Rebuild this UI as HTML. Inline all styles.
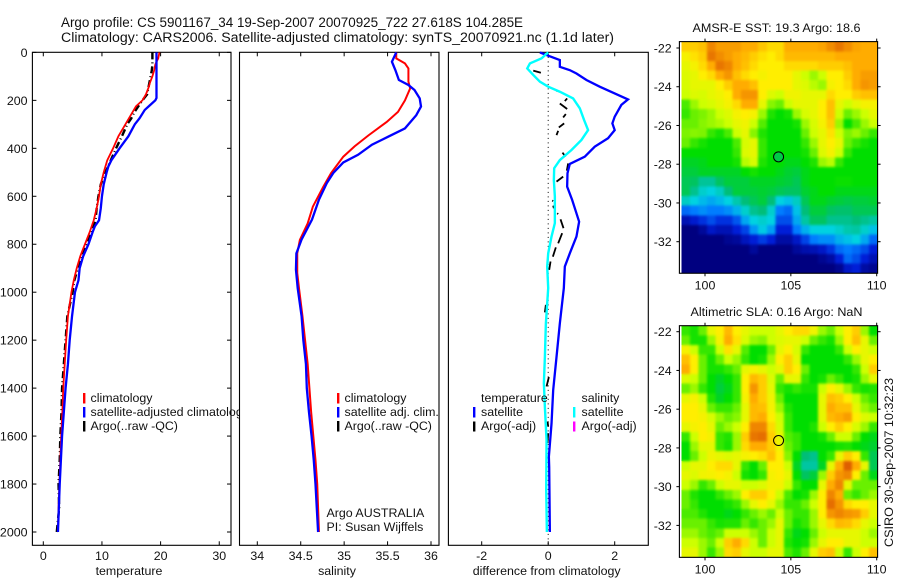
<!DOCTYPE html>
<html>
<head>
<meta charset="utf-8">
<title>Argo profile</title>
<style>
html,body{margin:0;padding:0;background:#fff;}
svg{display:block;}
text{font-family:"Liberation Sans",sans-serif;font-size:12.4px;fill:#111;}
</style>
</head>
<body>
<svg id="chart" xmlns="http://www.w3.org/2000/svg" width="900" height="580" viewBox="0 0 900 580">
  <defs>
    <filter id="soften" x="-5%" y="-5%" width="110%" height="110%" color-interpolation-filters="sRGB">
      <feGaussianBlur stdDeviation="1.4"/>
    </filter>
  </defs>
  <rect x="0" y="0" width="900" height="580" fill="#fff"/>
  <text x="61" y="27" textLength="462" lengthAdjust="spacingAndGlyphs" style="font-size:13.4px">Argo profile: CS 5901167_34 19-Sep-2007 20070925_722 27.618S 104.285E</text>
  <text x="61" y="42" textLength="553" lengthAdjust="spacingAndGlyphs" style="font-size:13.4px">Climatology: CARS2006. Satellite-adjusted climatology: synTS_20070921.nc (1.1d later)</text>

  <g id="p1"></g>
  <g>
    <rect x="83" y="393" width="2.4" height="10.5" fill="#f00"/>
    <rect x="83" y="407" width="2.4" height="10.5" fill="#00f"/>
    <rect x="83" y="421" width="2.4" height="10.5" fill="#000"/>
    <text x="90.5" y="402">climatology</text>
    <text x="90.5" y="416">satellite-adjusted climatology</text>
    <text x="90.5" y="430">Argo(..raw -QC)</text>
  </g>

  <g id="p2"></g>
  <g>
    <rect x="337" y="393" width="2.4" height="10.5" fill="#f00"/>
    <rect x="337" y="407" width="2.4" height="10.5" fill="#00f"/>
    <rect x="337" y="421" width="2.4" height="10.5" fill="#000"/>
    <text x="344.5" y="402">climatology</text>
    <text x="344.5" y="416">satellite adj. clim.</text>
    <text x="344.5" y="430">Argo(..raw -QC)</text>
    <text x="326.5" y="517">Argo AUSTRALIA</text>
    <text x="326.5" y="531">PI: Susan Wijffels</text>
  </g>

  <g id="p3"></g>
  <g>
    <text x="481" y="402">temperature</text>
    <rect x="473" y="407" width="2.4" height="10.5" fill="#00f"/>
    <rect x="473" y="421.5" width="2.4" height="10" fill="#000"/>
    <text x="481" y="416">satellite</text>
    <text x="481" y="430">Argo(-adj)</text>
    <text x="581.5" y="402">salinity</text>
    <rect x="573" y="407" width="2.4" height="10.5" fill="#0ff"/>
    <rect x="573" y="421.5" width="2.4" height="10" fill="#f0f"/>
    <text x="581.5" y="416">satellite</text>
    <text x="581.5" y="430">Argo(-adj)</text>
  </g>

  <g id="m1"></g>
  <g id="m2"></g>

  <text x="692.5" y="32" textLength="168" lengthAdjust="spacingAndGlyphs">AMSR-E SST: 19.3 Argo: 18.6</text>
  <text x="690.5" y="316" textLength="172" lengthAdjust="spacingAndGlyphs">Altimetric SLA: 0.16 Argo: NaN</text>
  <text transform="translate(893,547) rotate(-90)" textLength="169" lengthAdjust="spacingAndGlyphs">CSIRO 30-Sep-2007 10:32:23</text>
</svg>

<script>
// ---------- axis tick values ----------
var depthTicks = [0,200,400,600,800,1000,1200,1400,1600,1800,2000];
var tempTicks = [0,10,20,30];
var salTicks = [34,34.5,35,35.5,36];
var salTickLabels = ["34","34.5","35","35.5","36"];
var diffTicks = [-2,0,2];
var lonTicks = [100,105,110];
var latTicks = [-22,-24,-26,-28,-30,-32];

// ---------- temperature panel ----------
var tempClimDepths = [0,25,50,75,100,125,150,175,200,225,250,275,300,350,400,450,500,550,600,650,700,750,800,850,900,950,1000,1100,1200,1300,1400,1500,1600,1700,1800,1900,2000];
var tempClimValues = [19.8,19.6,19.1,18.9,18.6,18.2,17.9,17.5,16.9,15.8,15.2,14.6,14.0,12.8,11.9,10.9,10.3,9.8,9.5,9.1,8.6,7.9,7.1,6.3,5.7,5.2,4.8,4.2,3.9,3.65,3.4,3.25,3.05,2.9,2.75,2.6,2.5];
var tempSatDepths = [0,190,200,220,240,275,300,350,400,450,475,500,550,600,650,700,725,750,800,850,900,950,1000,1100,1200,1300,1400,1500,1600,1700,1800,1900,2000];
var tempSatValues = [19.3,19.3,19.1,18.2,17.3,16.4,15.6,14.5,13,11.6,11.1,10.8,10.3,10,9.8,9.5,8.8,8.4,7.7,6.8,6.2,6,5.4,4.9,4.5,4.2,3.8,3.5,3.2,3,2.8,2.65,2.5];
var tempArgoDepths = [0,25,50,75,100,150,175,200,225,250,275,300,350,400,450,500,550,600,650,700,750,800,850,900,950,1000,1100,1200,1300,1400,1500,1600,1700,1800,1900,2000];
var tempArgoValues = [18.6,18.6,18.6,18.5,18.3,17.9,17.7,16.9,16.2,15.5,15,14.3,13.4,12.4,11.5,10.6,9.8,9.4,9.1,8.9,8.2,7.3,6.4,5.9,5.3,5,4.1,3.8,3.5,3.2,3.1,2.9,2.8,2.6,2.7,2.3];

// ---------- salinity panel ----------
var salClimDepths = [0,25,46,67,122,150,200,248,290,346,392,435,503,560,643,713,782,838,920,983,1100,1200,1300,1400,1500,1600,1700,1800,1900,2000];
var salClimValues = [35.6,35.6,35.7,35.74,35.74,35.76,35.7,35.62,35.49,35.28,35.12,34.99,34.85,34.76,34.64,34.58,34.49,34.46,34.46,34.48,34.52,34.55,34.58,34.6,34.62,34.645,34.67,34.69,34.7,34.71];
var salSatDepths = [0,39,74,115,136,157,192,226,262,317,351,385,427,459,503,545,614,697,780,838,906,983,1100,1200,1300,1400,1500,1600,1700,1800,1900,2000];
var salSatValues = [35.6,35.55,35.59,35.63,35.74,35.81,35.87,35.885,35.83,35.7,35.51,35.32,35.16,34.99,34.875,34.8,34.71,34.63,34.51,34.45,34.445,34.465,34.51,34.53,34.56,34.57,34.595,34.625,34.65,34.67,34.685,34.7];

// ---------- difference panel ----------
var diffTempDepths = [0,11,32,60,74,88,115,143,171,196,219,268,296,324,358,393,435,465,504,560,615,671,706,768,838,893,983,1130,1270,1408,1547,1686,1730,2000];
var diffTempValues = [-0.25,-0.05,0.35,0.35,0.65,0.85,1.15,1.55,2.0,2.4,2.2,2.0,1.93,2.0,1.8,1.4,1.1,0.65,0.58,0.57,0.72,0.85,0.93,0.85,0.65,0.5,0.47,0.35,0.25,0.15,0.1,0.02,0.03,0.05];
var diffSalDepths = [0,25,46,67,94,122,143,164,192,233,282,324,365,407,449,483,532,601,712,768,838,893,983,1130,1270,1380,1478,1616,1825,2000];
var diffSalValues = [0,-0.2,-0.55,-0.63,-0.45,-0.25,0,0.35,0.75,0.95,1.08,1.2,1.0,0.7,0.35,0.18,0.17,0.2,0.2,0.1,0,-0.03,0,-0.07,-0.1,-0.13,-0.1,-0.05,-0.06,-0.04];
var diffArgoDepths = [43,43,null,76,85,null,160,161,null,203,192,null,213,236,null,271,257,null,313,296,null,345,327,null,418,435,null,463,493,null,539,518,null,618,620,null,639,650,null,671,674,null,696,733,null,754,796,null,813,852,null,872,907,null,1053,1084,null,1354,1393,null,1539,1560,null,1588,1629];
var diffArgoValues = [-0.52,-0.5,null,-0.45,-0.22,null,0.25,0.28,null,0.5,0.57,null,0.35,0.57,null,0.45,0.53,null,0.32,0.48,null,0.25,0.3,null,0.43,0.52,null,0.6,0.56,null,0.25,0.45,null,0.12,0.15,null,0.15,0.17,null,0.27,0.3,null,0.37,0.46,null,0.42,0.3,null,0.23,0.14,null,0.07,0.03,null,-0.07,-0.1,null,0.02,-0.05,null,-0.02,0,null,0,-0.02];

// ---------- map values (colour level, 0 = coldest/lowest, 10 = warmest/highest) ----------
var argoLon = 104.285;
var argoLat = -27.618;
var sstLevels = [
[8.5,8.5,8.7,9.5,9.2,9.2,9.2,9,9,8.6,8.3,8.3,9,9,9,9,9.1,9.4,9.7,9.4,9.1,9,9],
[7.8,8.2,8.5,9.7,9.4,9.2,9,8.8,8.5,8.2,8,8.3,8.8,8.8,8.8,8.8,8.8,8.8,9,9,9,9,9],
[7.5,7.8,8.3,9,9.7,9.5,9,8.7,8.3,8,8,8,8.3,8.3,8.3,8.3,8.5,8.5,8.5,8.7,9,9,9],
[7.3,7.5,8,8.3,9,9.3,8.7,8.3,8,7.8,8,8,8,7.5,7,6.5,7,8,8,8.5,9,9.2,9.2],
[7.2,7.5,7.5,7.5,8,8.5,9,9,8.7,8,8,8,8,7.5,7.3,6.8,6.5,7.8,8,8.3,9,9.3,9.2],
[7,7.3,7.2,7.5,7.7,8,9,9.3,9.3,8,7.3,7,7.7,7.7,7.5,7.5,7.5,8.3,8,8,8.5,8.7,8.7],
[5.7,6.5,7,7.2,7.5,7.8,8.3,9,9,7.5,6.3,6,7,7.5,7.5,7.5,8,8.7,7.5,7,7.5,7.8,7.8],
[5.5,6,6.2,6.5,7,7.3,7.8,8,7.8,6.5,5.3,5,5.2,6.5,7.2,7.5,8,8.7,7,6,6.5,7,7.5],
[6,6,6.3,6.5,6.7,7,7.5,7.7,7,5.8,5,5,5,5.2,6.5,7.2,7.8,8.5,6.5,5,5.7,6.5,7],
[6.2,6.3,6.2,5.5,5.2,5.7,7,7.5,6.3,5.3,5,5,5,5,6,7,7.5,8.2,7,6.2,6.5,6,5.5],
[6,5.5,5.2,5,5,5,5.7,7.2,7.5,5.5,5,5,5,5,5.5,6.5,7.5,8,7.5,6,5.5,5.2,5],
[5,5,5,5,5,5,5.5,7.3,7.5,5.5,5,5,5,5,5.2,6,7.3,7.8,7,5.5,5,5,5],
[4.7,4.7,4.8,5,5,5,5.2,6.8,7.2,5.3,5,5,4.8,4.8,5,5.3,6.5,6.8,5.5,5,5,5,5],
[4.5,4.5,4.7,4.7,4.7,4.7,4.7,5,5.2,5,5,4.8,4.6,4.5,4.8,5,5,5,5,5,5,5,5],
[4.3,4.2,3.7,3.7,4.2,4.5,4.5,4.5,4.7,4.7,4.7,4.6,4.5,4.3,4.8,5,5,5,5.1,5.1,5,5,5],
[4.3,3.8,3.2,3,3.3,4,4.5,4.5,4.5,4.6,4.5,4.3,4.2,4.2,4.6,4.8,5,5,4.8,4.8,4.8,4.8,4.8],
[3.3,3,2.7,2.5,2.7,3,3.5,4,4.3,4.5,4,3,2.8,3.3,4.3,4.8,4.8,4.6,4.5,4.4,4.5,4.5,4.6],
[1.8,2,2.2,2,2,2.2,2.6,3.2,3.8,4,3.2,2,1.8,2.8,4,4.5,4.5,4.2,4.1,4.1,4.3,4.3,4.3],
[0.6,0.9,1.2,1.5,1.2,1.2,1.6,2.5,3,3.2,3,1.5,1.5,2.5,3.6,4.2,4.2,3.8,3.8,3.8,4,3.8,3.6],
[0,0,0.3,0.8,0.6,0.6,1,1.4,2.3,2.9,2.4,1,1,2,2.6,3,3,3,3.2,3.5,3.6,3.2,2.8],
[0,0,0,0,0,0.2,0.3,0.7,1,1.3,1,0.4,0.4,0.8,1.4,2,2.2,2.2,2.6,2.8,3,2.5,1.8],
[0,0,0,0,0,0,0,0,0.3,0,0,0,0,0.3,0.5,0.6,0.8,1.2,1.8,2,1.8,1.5,1],
[0,0,0,0,0,0,0,0,0,0,0,0,0,0,0,0,0.2,0.4,1,1.8,1.5,1,0.6],
[0,0,0,0,0,0,0,0,0,0,0,0,0,0,0,0,0,0,0.2,0.8,1,0.4,0.2]
];
var slaLevels = [
[5.5,5.2,6,7.5,8,8.8,8,7.5,7,7,7,7.5,8,8.3,8.3,7.7,6.5,6,7,8,8.5,6.5,5],
[6,5.2,5.2,6.5,7.8,9,8.2,7.2,6.5,6.3,7,7.3,7.5,7.5,7,6,5.5,5.2,6.5,8,8.7,7.5,6],
[7.8,7,5.5,5.5,7,8.2,7.5,5.8,5,5,6,7.5,8,7.2,5.5,5,5,5,5.5,7,8,7.5,7],
[8.7,8,6,5.2,6,7,6.5,5.5,5,5.2,6.5,8,8.5,7.5,5,5,5,5,5,5.5,6.5,7.5,8],
[9,8,6,5.2,5.2,5.5,6,7.5,7.8,7.5,7,7.5,8.5,8,6,5,5,5,5,5,5.5,7,8.5],
[7.3,7,6,5,4.7,5,5.5,8,8.8,8.5,7.3,6,7.5,7.5,5.5,5,5.2,6,5.5,5,5.2,6.5,7.5],
[6,6.5,5.5,5,4.5,4.8,5.5,8,9.3,8.5,7.5,5.5,5.2,5.5,5.2,5.2,7,8,7.5,6.5,5.5,5.2,5.3],
[7.5,7.8,7,5.3,4.7,5,5.5,7.8,9,8.5,7.7,6,5,5,5,5,7.5,8.7,8.5,8,7,6,5.5],
[8,8,7.5,6,5.5,5.5,6,7.5,8.8,8.7,7.8,6.5,5.3,5,5,5,7.5,9,8.7,8.7,7.5,6.5,6],
[8,8,7.8,7.2,6.5,6,6.3,7.5,8.8,9,8,7,5.5,5,5,5,7.5,8.8,9,9.2,8,7.3,7],
[7.5,7.8,8,7.5,6,6.5,7,8,9.5,9.5,8.3,7.2,5.5,5,5,5.3,7,8,8.5,8,7.2,6.5,5.5],
[5.5,7,8,7.8,5.5,5.3,6.5,8.5,9.7,9.8,8.5,7.5,5.8,5.5,5,5,5.2,6,7,7,6,5,4.8],
[5,6.5,7.5,7.5,5.5,5.2,6.5,8.3,9,9,8.5,7.7,6,5.5,5,5,5,5,5.2,5.3,5,4.8,4.6],
[5,6,7,7.7,7.5,7.3,7.5,7.8,8,8.2,8.7,8,6.3,5,4,3.8,5,5.5,7.5,8.5,8,5.5,4.3],
[7,7.5,7.5,8,8.3,8.3,7.5,5.5,5,6,8,8,7,4.7,3.6,3.6,4.7,7.5,9,10,9,7.5,4.3],
[7.5,7.3,7.7,7.8,8,7.8,7,5.2,5,5.5,7.8,8,7.5,5,4.2,4.5,6.5,8.5,9.3,9.5,8,6,4.8],
[7,6.5,5.5,6,7,7.5,7.5,7,7,7.3,7.8,7.8,7,5.5,5,5,7.5,9,9.5,7.5,6,6,6],
[6,5.3,5,5,5.5,6,6.5,8,8.5,8.5,8,7,5.7,5,5.2,6.5,8,9.5,9,6,5.5,6,6.5],
[6,5.5,5,5,5,5.2,5.5,6.5,7.5,8,7.5,6.5,5.5,5.5,6,7,8,9.8,9.3,8.3,8,8,7.5],
[5.7,5.7,5.3,5,5,4.8,5,5.5,6,6.5,6,7,6,5.5,5.5,6.5,8,9.3,9.5,9.3,9.2,8.5,7.5],
[6,6,6,5.5,5.2,5.3,5.3,6,5.5,6,6.5,7.5,6,5.2,5.5,6.5,7.5,8.3,8.8,8.7,8.3,7.5,7],
[6.5,6.5,6,5.7,6,7,7,7,6.5,6,7,7.5,5.5,4.8,5,6,7,7.5,7.5,7.5,7.5,7,6.5],
[7,7,6.5,6,7,8.5,9,8.3,7,6,7,7.5,5.3,5,5.2,6.5,7.5,8,8,7.5,7.5,7,7],
[7.5,7.5,6.5,5.5,6.5,8.3,8.5,7.5,7,7,7.5,7.5,5.7,5.3,6,7.5,8.5,8.7,7,5.5,7,8,8.7]
];

// ---------- helpers ----------
var NS = "http://www.w3.org/2000/svg";
function make(parent, tag, attrs, txt) {
  var el = document.createElementNS(NS, tag);
  for (var k in attrs) { el.setAttribute(k, attrs[k]); }
  if (txt !== undefined) { el.textContent = txt; }
  parent.appendChild(el);
  return el;
}

// axis functions
var DEPTH_TOP = 52.4, DEPTH_PER_M = 0.2398;
function yDepth(d) { return DEPTH_TOP + d * DEPTH_PER_M; }
function xTemp(v) { return 43.3 + v * 5.865; }
function xSal(v) { return 257.3 + (v - 34) * 86.85; }
function xDiff(v) { return 548.2 + v * 33.25; }
function xLon(v) { return 705 + (v - 100) * 17.17; }
function yLatM1(v) { return 48 + (-22 - v) * 19.37; }
function yLatM2(v) { return 331.7 + (-22 - v) * 19.37; }

// colour map for the heat maps
var mapPalette = [[0,0,128],[0,30,215],[0,125,255],[0,210,225],[0,190,120],[0,222,0],[105,240,0],[205,255,0],[255,238,0],[255,172,0],[222,95,0]];
function levelColor(v) {
  var i = Math.min(Math.floor(v), mapPalette.length - 2);
  var f = v - i;
  var a = mapPalette[i], b = mapPalette[i + 1];
  return "rgb(" + Math.round(a[0] + (b[0] - a[0]) * f) + "," + Math.round(a[1] + (b[1] - a[1]) * f) + "," + Math.round(a[2] + (b[2] - a[2]) * f) + ")";
}

function linePath(depths, values, xf) {
  var s = "", pen = false;
  for (var i = 0; i < depths.length; i++) {
    if (depths[i] === null || values[i] === null) { pen = false; continue; }
    s += (pen ? "L" : "M") + xf(values[i]).toFixed(2) + " " + yDepth(depths[i]).toFixed(2);
    pen = true;
  }
  return s;
}

function drawProfilePanel(g, left, right, xf, ticks, labels, showDepth, axisLabel, labelX) {
  var top = yDepth(0) - 0.1, bottom = 545.3;
  var bg = make(g, "rect", {x: left, y: top, width: right - left, height: bottom - top, fill: "#fff"});
  
  
  for (var i = 0; i < ticks.length; i++) {
    var x = xf(ticks[i]);
    var t1 = make(g, "line", {x1: x, x2: x, y1: top, y2: top + 4, stroke: "#000", "stroke-width": 1});
    
    
    var t2 = make(g, "line", {x1: x, x2: x, y1: bottom, y2: bottom - 4, stroke: "#000", "stroke-width": 1});
    
    
    var tl = make(g, "text", {x: x, y: 560, "text-anchor": "middle"}, labels[i]);
    
    
  }
  if (showDepth) {
    for (var j = 0; j < depthTicks.length; j++) {
      var y = yDepth(depthTicks[j]);
      var l1 = make(g, "line", {x1: left, x2: left + 4, y1: y, y2: y, stroke: "#000", "stroke-width": 1});
      
      
      var l2 = make(g, "line", {x1: right, x2: right - 4, y1: y, y2: y, stroke: "#000", "stroke-width": 1});
      
      
      var yl = make(g, "text", {x: 27.5, y: y + 4.5, "text-anchor": "end"}, String(depthTicks[j]));
      
      
    }
  }
  var al = make(g, "text", {x: labelX, y: 575, "text-anchor": "middle"}, axisLabel);
  
  
  var fr = make(g, "rect", {x: left, y: top, width: right - left, height: bottom - top, fill: "none", stroke: "#000", "stroke-width": 1.1});
  
  
}

// ---------- temperature panel ----------
var p1 = document.getElementById("p1");
drawProfilePanel(p1, 32.4, 231, xTemp, tempTicks, tempTicks.map(String), true, "temperature", 129);
var tArgo = make(p1, "path", {d: linePath(tempArgoDepths, tempArgoValues, xTemp), fill: "none", stroke: "#000", "stroke-width": 2.4, "stroke-dasharray": "7 3 1 3"});


var tClim = make(p1, "path", {d: linePath(tempClimDepths, tempClimValues, xTemp), fill: "none", stroke: "#f00", "stroke-width": 1.8});


var tSat = make(p1, "path", {d: linePath(tempSatDepths, tempSatValues, xTemp), fill: "none", stroke: "#00f", "stroke-width": 2.3});



// ---------- salinity panel ----------
var p2 = document.getElementById("p2");
drawProfilePanel(p2, 239.5, 439, xSal, salTicks, salTickLabels, false, "salinity", 337);
var sClim = make(p2, "path", {d: linePath(salClimDepths, salClimValues, xSal), fill: "none", stroke: "#f00", "stroke-width": 2});


var sSat = make(p2, "path", {d: linePath(salSatDepths, salSatValues, xSal), fill: "none", stroke: "#00f", "stroke-width": 2.3});



// ---------- difference panel ----------
var p3 = document.getElementById("p3");
drawProfilePanel(p3, 448.4, 648.3, xDiff, diffTicks, ["-2","0","2"], false, "difference from climatology", 546.7);
var zero = make(p3, "line", {x1: xDiff(0), x2: xDiff(0), y1: yDepth(0), y2: 545, stroke: "#000", "stroke-width": 1, "stroke-dasharray": "1 3.5"});


var dArgo = make(p3, "path", {d: linePath(diffArgoDepths, diffArgoValues, xDiff), fill: "none", stroke: "#000", "stroke-width": 1.8});


var dTemp = make(p3, "path", {d: linePath(diffTempDepths, diffTempValues, xDiff), fill: "none", stroke: "#00f", "stroke-width": 2.3});


var dSal = make(p3, "path", {d: linePath(diffSalDepths, diffSalValues, xDiff), fill: "none", stroke: "#0ff", "stroke-width": 2.4});



// ---------- maps ----------
function drawMap(g, levels, yf, circleFill, key) {
  var lon0 = 98.64, dLon = 0.4957, lat0 = yf === yLatM1 ? -21.67 : -21.69, dLat = 0.4983;
  var frameTop = yf(lat0), frameBottom = yf(lat0 - dLat * levels.length);
  var frameLeft = 679.4, frameRight = 877.6;

  var clip = make(g, "clipPath", {id: "clip-" + key});
  make(clip, "rect", {x: xLon(lon0), y: frameTop, width: frameRight - xLon(lon0), height: frameBottom - frameTop});

  var cells = make(g, "g", {id: "cells-" + key});
  
  
  for (var r = 0; r < levels.length; r++) {
    for (var c = 0; c < levels[r].length; c++) {
      var x0 = xLon(lon0 + c * dLon), x1 = xLon(lon0 + (c + 1) * dLon);
      var y0 = yf(lat0 - r * dLat), y1 = yf(lat0 - (r + 1) * dLat);
      var cell = make(cells, "rect", {x: x0, y: y0, width: x1 - x0 + 0.3, height: y1 - y0 + 0.3, fill: levelColor(levels[r][c]), "shape-rendering": "crispEdges"});
      
      
    }
  }
  var clipG = make(g, "g", {"clip-path": "url(#clip-" + key + ")"});
  
  
  var soft = make(clipG, "use", {href: "#cells-" + key, filter: "url(#soften)"});
  
  

  var fr = make(g, "rect", {x: frameLeft, y: frameTop, width: frameRight - frameLeft, height: frameBottom - frameTop, fill: "none", stroke: "#000", "stroke-width": 1.1});
  
  
  for (var i = 0; i < lonTicks.length; i++) {
    var x = xLon(lonTicks[i]);
    var t1 = make(g, "line", {x1: x, x2: x, y1: frameTop, y2: frameTop - 3, stroke: "#000", "stroke-width": 1});
    
    
    var t2 = make(g, "line", {x1: x, x2: x, y1: frameBottom, y2: frameBottom + 3, stroke: "#000", "stroke-width": 1});
    
    
    var tl = make(g, "text", {x: x, y: frameBottom + 16, "text-anchor": "middle"}, String(lonTicks[i]));
    
    
  }
  for (var j = 0; j < latTicks.length; j++) {
    var y = yf(latTicks[j]);
    var l1 = make(g, "line", {x1: frameLeft, x2: frameLeft - 3, y1: y, y2: y, stroke: "#000", "stroke-width": 1});
    
    
    var l2 = make(g, "line", {x1: frameRight, x2: frameRight + 3, y1: y, y2: y, stroke: "#000", "stroke-width": 1});
    
    
    var ll = make(g, "text", {x: 671.7, y: y + 4.5, "text-anchor": "end"}, String(latTicks[j]));
    
    
  }
  var mk = make(g, "circle", {cx: xLon(argoLon), cy: yf(argoLat), r: 5, fill: circleFill, stroke: "#000", "stroke-width": 1});
  
  
}
drawMap(document.getElementById("m1"), sstLevels, yLatM1, levelColor(4.4), "m1");
drawMap(document.getElementById("m2"), slaLevels, yLatM2, "none", "m2");
</script>
</body>
</html>
